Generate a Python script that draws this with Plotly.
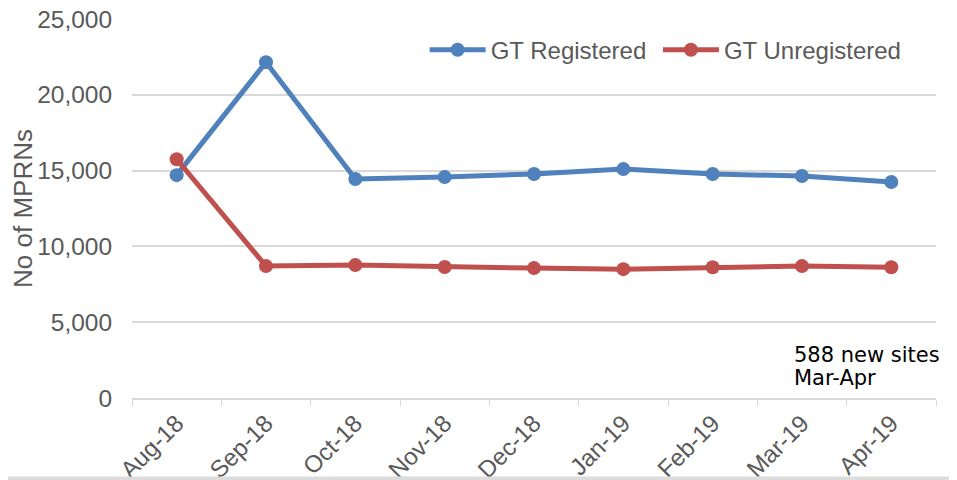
import plotly.graph_objects as go

months = ["Aug-18", "Sep-18", "Oct-18", "Nov-18", "Dec-18", "Jan-19", "Feb-19", "Mar-19", "Apr-19"]
gt_registered = [14700, 22150, 14450, 14570, 14780, 15100, 14780, 14640, 14250]
gt_unregistered = [15750, 8700, 8770, 8640, 8570, 8500, 8620, 8700, 8620]
y_ticks = [0, 5000, 10000, 15000, 20000, 25000]

fig = go.Figure()
fig.add_trace(go.Scatter(x=months, y=gt_registered, name="GT Registered\u00a0", mode="lines+markers",
                         line=dict(color="#4F81BD", width=5), marker=dict(size=14, color="#4F81BD")))
fig.add_trace(go.Scatter(x=months, y=gt_unregistered, name="GT Unregistered", mode="lines+markers",
                         line=dict(color="#C0504D", width=5), marker=dict(size=14, color="#C0504D")))

font_main = "Liberation Sans, Arial, sans-serif"
note_font = dict(family="DejaVu Sans, sans-serif", size=21, color="#000000")
fig.update_layout(
    width=957, height=480,
    margin=dict(l=124, r=29, t=11, b=90),
    plot_bgcolor="white", paper_bgcolor="white",
    font=dict(family=font_main, color="#595959"),
    showlegend=True,
    legend=dict(orientation="h", x=0.364, y=0.918, xanchor="left", yanchor="middle",
                font=dict(size=24, color="#595959"), bgcolor="rgba(0,0,0,0)", itemwidth=56,
                tracegroupgap=0),
    xaxis=dict(type="category", range=[-0.5, 8.5], showgrid=False, showline=True, automargin=False,
               linecolor="#d9d9d9", linewidth=1.5, ticks="outside", ticklen=6, tickcolor="#d9d9d9",
               tickson="boundaries", tickangle=-45, tickfont=dict(size=24, color="#595959")),
    yaxis=dict(range=[0, 25000], tickvals=y_ticks, tickformat=",", showgrid=True, automargin=False,
               gridcolor="#d9d9d9", gridwidth=1.5, zeroline=False, showline=False,
               ticklabeloverflow="allow",
               tickfont=dict(size=24.5, color="#595959"), ticks="outside", ticklen=14, tickcolor="white",
               title=dict(text="No of MPRNs", font=dict(size=26, color="#595959"), standoff=0)),
    annotations=[
        dict(text="588 new sites", xref="paper", yref="paper", x=0.821, y=0.1135,
             xanchor="left", yanchor="middle", align="left", showarrow=False, font=note_font),
        dict(text="Mar-Apr", xref="paper", yref="paper", x=0.821, y=0.0528,
             xanchor="left", yanchor="middle", align="left", showarrow=False, font=note_font),
    ],
    shapes=[dict(type="rect", xref="paper", yref="paper", x0=-0.2, x1=1.1, y0=-0.23, y1=-0.207,
                 fillcolor="#dcdcdc", line=dict(width=0), layer="above")],
)

fig.write_html("out.html")
